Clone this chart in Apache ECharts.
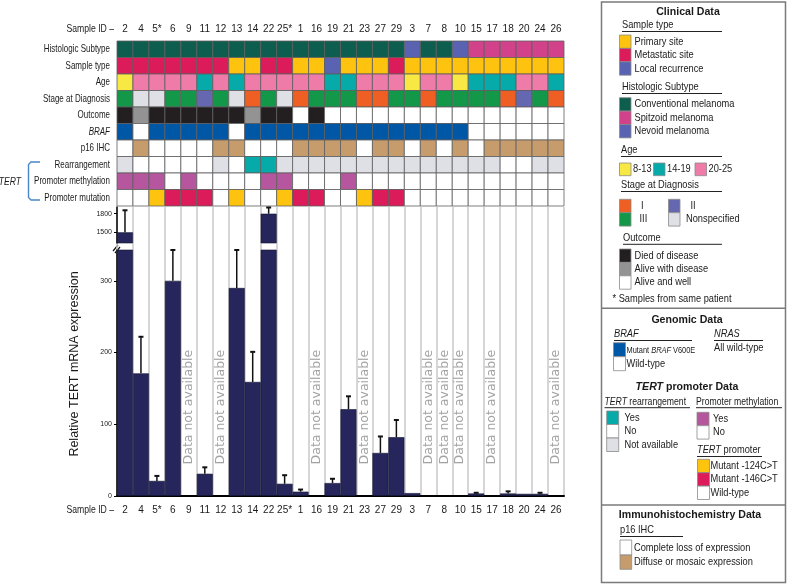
<!DOCTYPE html>
<html>
<head>
<meta charset="utf-8">
<script src="https://cdn.jsdelivr.net/npm/echarts@6/dist/echarts.min.js"></script>
<style>
html, body { margin: 0; padding: 0; background: #fff; }
#chart { width: 787px; height: 584px; }
</style>
</head>
<body>
<div id="chart"></div>
<script>
const sampleIds = ['2', '4', '5*', '6', '9', '11', '12', '13', '14', '22', '25*', '1', '16', '19', '21', '23', '27', '29', '3', '7', '8', '10', '15', '17', '18', '20', '24', '26']
const rowLabels = ['Histologic Subtype', 'Sample type', 'Age', 'Stage at Diagnosis', 'Outcome', 'BRAF', 'p16 IHC', 'Rearrangement', 'Promoter methylation', 'Promoter mutation']

// one code per sample, same order as sampleIds
const histologic = ['C', 'C', 'C', 'C', 'C', 'C', 'C', 'C', 'C', 'C', 'C', 'C', 'C', 'C', 'C', 'C', 'C', 'C', 'N', 'C', 'C', 'N', 'S', 'S', 'S', 'S', 'S', 'S']
const sampleType = ['M', 'M', 'M', 'M', 'M', 'M', 'M', 'P', 'P', 'M', 'M', 'P', 'P', 'L', 'P', 'P', 'P', 'M', 'P', 'P', 'P', 'P', 'P', 'P', 'P', 'P', 'P', 'P']
const ageGroup = [0, 2, 2, 2, 2, 1, 2, 1, 2, 2, 2, 2, 2, 1, 1, 2, 2, 2, 0, 2, 2, 0, 1, 1, 1, 2, 2, 1]
const stage = ['III', 'NS', 'NS', 'III', 'III', 'II', 'III', 'NS', 'I', 'III', 'NS', 'I', 'III', 'III', 'III', 'I', 'I', 'III', 'III', 'I', 'III', 'III', 'III', 'III', 'I', 'II', 'III', 'I']
const outcome = ['D', 'A', 'D', 'D', 'D', 'D', 'D', 'D', 'A', 'D', 'D', 'W', 'D', 'W', 'W', 'W', 'W', 'W', 'W', 'W', 'W', 'W', 'W', 'W', 'W', 'W', 'W', 'W']
const braf = [1, 0, 1, 1, 1, 1, 1, 0, 1, 1, 1, 1, 1, 1, 1, 1, 1, 1, 1, 1, 1, 1, 0, 0, 0, 0, 0, 0]
const p16 = [0, 1, 0, 0, 0, 0, 1, 1, 0, 0, 0, 1, 1, 1, 1, 0, 1, 1, 0, 1, 0, 1, 0, 1, 1, 1, 1, 1]
const rearrangement = [2, 0, 0, 0, 0, 0, 2, 0, 1, 1, 2, 2, 2, 2, 2, 2, 2, 2, 2, 2, 2, 2, 2, 2, 0, 0, 2, 2]
const methylation = [1, 1, 1, 0, 1, 0, 0, 0, 0, 1, 1, 0, 0, 0, 1, 0, 0, 0, 0, 0, 0, 0, 0, 0, 0, 0, 0, 0]
const promoterMut = [0, 0, 1, 2, 2, 2, 0, 1, 0, 0, 1, 2, 2, 0, 0, 1, 2, 2, 0, 0, 0, 0, 0, 0, 0, 0, 0, 0]

// relative TERT mRNA expression (null = data not available) and top of error bar
const expression = [1500, 171, 21, 300, null, 31, null, 290, 159, 1800, 17, 6, null, 18, 121, null, 60, 82, 4, null, null, null, 3.5, null, 3.5, 3, 3, null]
const errorTop = [1855, 222, 28, 343, 0, 40, 0, 343, 201, 1900, 29, 9, 0, 24, 139, 0, 83, 106, 0, 0, 0, 0, 4.5, 0, 6.5, 0, 4.5, 0]

const lowerTicks = [0, 100, 200, 300]
const upperTicks = [1500, 1800]
const lowerMax = 343
const upperMin = 1328
const upperMax = 1908

const histColors = { C: '#0e5e50', S: '#d2428b', N: '#5a63b2' }
const typeColors = { P: '#fdc30e', M: '#dc1b5a', L: '#5a63b2' }
const ageColors = ['#f8e844', '#06aaa9', '#ef7ba8']
const stageColors = { I: '#ef5f24', II: '#6567b0', III: '#13984a', NS: '#dfe0e5' }
const outcomeColors = { D: '#231f20', A: '#939393', W: '#ffffff' }
const brafColors = ['#ffffff', '#0057a6']
const p16Colors = ['#ffffff', '#c69c6d']
const rearrColors = ['#ffffff', '#06aaa9', '#dfe0e5']
const methylColors = ['#ffffff', '#b5569e']
const promoterColors = ['#ffffff', '#fdc30e', '#dc1b5a']
const barColor = '#26265c'

const FONT = "'Liberation Sans', Arial, sans-serif"

// layout of the heatmap block
const heatTop = 41
const heatHeight = 165
const plotLeft = 117

const rows = [
  [histologic, histColors], [sampleType, typeColors], [ageGroup, ageColors], [stage, stageColors],
  [outcome, outcomeColors], [braf, brafColors], [p16, p16Colors], [rearrangement, rearrColors],
  [methylation, methylColors], [promoterMut, promoterColors],
]
const cells = []
const cellColors = []
rows.forEach(([codes, pal], r) => {
  codes.forEach((code, c) => {
    cells.push([c, r])
    cellColors.push(pal[code])
  })
})

const lowerErr = []
const upperErr = []
const naCols = []
expression.forEach((v, i) => {
  if (v == null) { naCols.push([i]); return }
  if (errorTop[i] > v) {
    if (v > lowerMax) upperErr.push([i, v, errorTop[i]])
    else lowerErr.push([i, v, errorTop[i]])
  }
})

const errorItem = (params, api) => {
  const a = api.coord([api.value(0), api.value(1)])
  const b = api.coord([api.value(0), api.value(2)])
  return {
    type: 'group',
    children: [
      { type: 'line', shape: { x1: a[0], y1: a[1], x2: a[0], y2: b[1] }, style: { stroke: '#111', lineWidth: 1.5 } },
      { type: 'line', shape: { x1: a[0] - 2.5, y1: b[1], x2: a[0] + 2.5, y2: b[1] }, style: { stroke: '#111', lineWidth: 2 } },
    ],
  }
}

// ---- text and legend panel drawn as graphics ----
const g = []
const ital = (size, weight) => ({ i: { fontStyle: 'italic', fontWeight: weight || 'normal', fontSize: size, fontFamily: FONT, fill: '#1a1a1a' } })
const txt = (x, y, text, extra, sx) => {
  const style = Object.assign({ text, fill: '#1a1a1a', fontSize: 10.3, fontFamily: FONT, verticalAlign: 'middle' }, extra || {})
  if (text.indexOf('{i|') >= 0) style.rich = ital(style.fontSize, style.fontWeight)
  g.push({ type: 'text', x, y, scaleX: sx || 0.9, style })
}
const title = (x, y, text) => txt(x, y, text, { fontWeight: 'bold', fontSize: 10.6, align: 'center' }, 1)
const swatch = (x, y, w, h, fill) => g.push({ type: 'rect', shape: { x, y, width: w, height: h }, style: { fill, stroke: '#8a8a8a', lineWidth: 0.8 } })
const hline = (x1, x2, y, stroke, lw) => g.push({ type: 'line', shape: { x1, y1: y, x2, y2: y }, style: { stroke: stroke || '#222', lineWidth: lw || 1 } })
const header = (x, y, x2, text, sx) => { txt(x, y, text, null, sx); hline(x, x2, y + 6) }

g.push({ type: 'rect', shape: { x: 601.5, y: 2, width: 184, height: 580.5 }, style: { fill: 'none', stroke: '#7a7a7a', lineWidth: 1.5 } })
hline(601.5, 785.5, 308.3, '#7a7a7a', 1.5)
hline(601.5, 785.5, 505, '#7a7a7a', 1.5)

title(688, 12, 'Clinical Data')
header(622, 25.5, 722, 'Sample type')
;[['P', 'Primary site'], ['M', 'Metastatic site'], ['L', 'Local recurrence']].forEach(([k, t], j) => {
  swatch(619.5, 35 + j * 13.4, 11.5, 13.4, typeColors[k]); txt(634.5, 42 + j * 13.4, t)
})
header(622, 87.5, 722, 'Histologic Subtype')
;[['C', 'Conventional melanoma'], ['S', 'Spitzoid melanoma'], ['N', 'Nevoid melanoma']].forEach(([k, t], j) => {
  swatch(619.5, 97.7 + j * 13.4, 11.5, 13.4, histColors[k]); txt(634.5, 104.5 + j * 13.4, t)
})
header(621, 150.5, 722, 'Age')
;[[619.5, '8-13'], [653.5, '14-19'], [695, '20-25']].forEach(([x, t], j) => {
  swatch(x, 163, 11.5, 12.7, ageColors[j]); txt(x + 13.5, 169.5, t)
})
header(621, 185.5, 722, 'Stage at Diagnosis')
swatch(619.5, 199.3, 11.5, 13.4, stageColors.I); txt(641, 206, 'I')
swatch(619.5, 212.7, 11.5, 13.4, stageColors.III); txt(639.5, 219.5, 'III')
swatch(668.5, 199.3, 11.5, 13.4, stageColors.II); txt(690.5, 206, 'II')
swatch(668.5, 212.7, 11.5, 13.4, stageColors.NS); txt(686, 219.5, 'Nonspecified')
header(623, 238.3, 722, 'Outcome')
;[['D', 'Died of disease'], ['A', 'Alive with disease'], ['W', 'Alive and well']].forEach(([k, t], j) => {
  swatch(619.5, 249 + j * 13.4, 11.5, 13.4, outcomeColors[k]); txt(634.5, 255.8 + j * 13.4, t)
})
txt(612.5, 299, '* Samples from same patient')

title(687, 320, 'Genomic Data')
header(614, 334.5, 692, '{i|BRAF}')
header(714, 334.5, 763, '{i|NRAS}')
txt(714, 348.5, 'All wild-type')
swatch(613.5, 342.7, 12, 14, brafColors[1]); txt(626.5, 350, 'Mutant {i|BRAF} V600E', { fontSize: 9.5 }, 0.78)
swatch(613.5, 356.7, 12, 14, brafColors[0]); txt(626.5, 364, 'Wild-type')

title(687, 387.5, '{i|TERT} promoter Data')
header(604.5, 401.7, 690, '{i|TERT} rearrangement', 0.84)
header(696, 401.7, 782, 'Promoter methylation', 0.84)
;[[1, 'Yes'], [0, 'No'], [2, 'Not available']].forEach(([k, t], j) => {
  swatch(606.7, 411 + j * 13.5, 12, 13.5, rearrColors[k]); txt(624.5, 418 + j * 13.5, t)
})
;[[1, 'Yes'], [0, 'No']].forEach(([k, t], j) => {
  swatch(697, 412.3 + j * 13.4, 12, 13.4, methylColors[k]); txt(713, 419.2 + j * 13.4, t)
})
header(697, 450.5, 762, '{i|TERT} promoter')
;[[1, 'Mutant -124C>T'], [2, 'Mutant -146C>T'], [0, 'Wild-type']].forEach(([k, t], j) => {
  swatch(697.5, 459.3 + j * 13.4, 12, 13.4, promoterColors[k]); txt(710.5, 466 + j * 13.4, t)
})

title(690, 515.5, 'Immunohistochemistry Data')
header(620, 530.5, 683, 'p16 IHC')
swatch(620, 540, 11.7, 15, p16Colors[0]); txt(634, 548, 'Complete loss of expression')
swatch(620, 555, 11.7, 14.3, p16Colors[1]); txt(634, 562, 'Diffuse or mosaic expression')

// row labels of the heatmap (condensed, right aligned next to the axis ticks)
const rowH = heatHeight / rowLabels.length
rowLabels.forEach((t, r) => {
  const label = t === 'BRAF' ? '{i|BRAF}' : t
  txt(plotLeft - 7, heatTop + (r + 0.5) * rowH, label, { align: 'right', fontSize: 10.8 }, 0.74)
})
txt(114, 29, 'Sample ID \u2013', { align: 'right', fontSize: 10.8 }, 0.8)
txt(114, 510.5, 'Sample ID \u2013', { align: 'right', fontSize: 10.8 }, 0.8)
txt(21, 182, 'TERT', { align: 'right', fontSize: 11, fontStyle: 'italic' }, 0.78)
g.push({
  type: 'polyline',
  shape: { points: [[40, 162], [31, 162], [28.5, 164.5], [28.5, 197.5], [31, 200], [40, 200]] },
  style: { fill: 'none', stroke: '#4a86c8', lineWidth: 1.4 },
})
g.push({
  type: 'text', x: 75, y: 364, rotation: Math.PI / 2,
  style: { text: 'Relative TERT mRNA expression', fill: '#1a1a1a', fontSize: 12.5, fontFamily: FONT, align: 'center', verticalAlign: 'middle' },
})
// axis break marks
g.push({ type: 'line', shape: { x1: 113, y1: 251, x2: 118, y2: 245 }, style: { stroke: '#111', lineWidth: 1.2 } })
g.push({ type: 'line', shape: { x1: 115, y1: 253, x2: 120, y2: 247 }, style: { stroke: '#111', lineWidth: 1.2 } })

const chart = echarts.init(document.getElementById('chart'), null, { renderer: 'canvas' })
chart.setOption({
  animation: false,
  grid: [
    { left: plotLeft, top: heatTop, width: 447, height: heatHeight },
    { left: plotLeft, top: 207, width: 447, height: 289 },
    { left: plotLeft, top: 207, width: 447, height: 36 },
    { left: plotLeft, top: 250, width: 447, height: 246 },
  ],
  xAxis: [
    {
      gridIndex: 0, type: 'category', data: sampleIds, position: 'top',
      axisLine: { show: false },
      axisTick: { alignWithLabel: true, length: 7, interval: 0, lineStyle: { color: '#777' } },
      axisLabel: { interval: 0, margin: 7, color: '#1a1a1a', fontSize: 10, fontFamily: FONT },
    },
    {
      gridIndex: 1, type: 'category', data: sampleIds,
      axisLine: { show: false }, axisTick: { show: false }, axisLabel: { show: false },
      splitLine: { show: true, interval: 0, lineStyle: { color: '#c8c8c8', width: 1.5 } },
    },
    { gridIndex: 2, type: 'category', data: sampleIds, show: false },
    {
      gridIndex: 3, type: 'category', data: sampleIds,
      axisLine: { lineStyle: { color: '#000', width: 2 } },
      axisTick: { alignWithLabel: true, length: 6, interval: 0, lineStyle: { color: '#555' } },
      axisLabel: { interval: 0, margin: 9, color: '#1a1a1a', fontSize: 10, fontFamily: FONT },
    },
  ],
  yAxis: [
    {
      gridIndex: 0, type: 'category', data: rowLabels, inverse: true,
      axisLine: { show: false },
      axisTick: { alignWithLabel: true, length: 4, lineStyle: { color: '#333' } },
      axisLabel: { show: false },
    },
    { gridIndex: 1, type: 'value', min: 0, max: 1, show: false },
    {
      gridIndex: 2, type: 'value', min: upperMin, max: upperMax,
      axisLine: { show: true, lineStyle: { color: '#000', width: 1.5 } },
      axisTick: { show: true, length: 3, customValues: upperTicks, lineStyle: { color: '#000' } },
      axisLabel: { customValues: upperTicks, margin: 5, fontSize: 7, color: '#1a1a1a', fontFamily: FONT, formatter: (v) => String(v) },
      splitLine: { show: false },
    },
    {
      gridIndex: 3, type: 'value', min: 0, max: lowerMax,
      axisLine: { show: true, lineStyle: { color: '#000', width: 1.5 } },
      axisTick: { show: true, length: 3, customValues: lowerTicks, lineStyle: { color: '#000' } },
      axisLabel: { customValues: lowerTicks, margin: 5, fontSize: 7, color: '#1a1a1a', fontFamily: FONT, formatter: (v) => String(v) },
      splitLine: { show: false },
    },
  ],
  series: [
    {
      type: 'custom', xAxisIndex: 0, yAxisIndex: 0, data: cells,
      renderItem: (params, api) => {
        const p = api.coord([api.value(0), api.value(1)])
        const s = api.size([1, 1])
        return {
          type: 'rect',
          shape: { x: p[0] - s[0] / 2, y: p[1] - s[1] / 2, width: s[0], height: s[1] },
          style: { fill: cellColors[params.dataIndex], stroke: '#5e5e5e', lineWidth: 0.8 },
        }
      },
    },
    {
      type: 'custom', xAxisIndex: 3, yAxisIndex: 3, data: naCols,
      renderItem: (params, api) => {
        const p = api.coord([api.value(0), 124])
        return {
          type: 'text', x: p[0], y: p[1], rotation: Math.PI / 2,
          style: { text: 'Data not available', fill: '#a3a3a3', fontSize: 12.5, fontFamily: "'DejaVu Sans', sans-serif", align: 'center', verticalAlign: 'middle' },
        }
      },
    },
    {
      type: 'bar', xAxisIndex: 3, yAxisIndex: 3, data: expression, barWidth: '100%', clip: true,
      itemStyle: { color: barColor, borderColor: '#141433', borderWidth: 0.6 },
    },
    {
      type: 'bar', xAxisIndex: 2, yAxisIndex: 2, barWidth: '100%', clip: true,
      data: expression.map((v) => (v != null && v > upperMin ? v : null)),
      itemStyle: { color: barColor, borderColor: '#141433', borderWidth: 0.6 },
    },
    { type: 'custom', xAxisIndex: 3, yAxisIndex: 3, data: lowerErr, renderItem: errorItem, z: 5 },
    { type: 'custom', xAxisIndex: 2, yAxisIndex: 2, data: upperErr, renderItem: errorItem, z: 5 },
  ],
  graphic: { elements: g },
})
</script>
</body>
</html>
